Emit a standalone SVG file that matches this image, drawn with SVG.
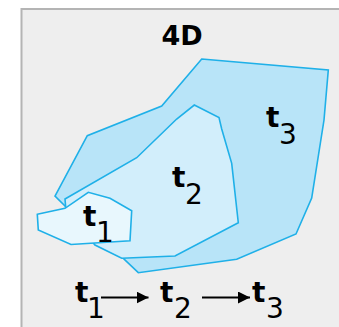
<svg xmlns="http://www.w3.org/2000/svg" width="339" height="327" viewBox="0 0 339 327">
<defs>
<style>
.reg{stroke:#1fb0e8;stroke-width:1.6;stroke-linejoin:miter}
.t{font-family:"DejaVu Sans",Verdana,sans-serif;font-weight:bold;font-size:28px;fill:#000}
.s{font-family:"DejaVu Sans",Verdana,sans-serif;font-size:28px;fill:#000}
.title{font-family:"DejaVu Sans",Verdana,sans-serif;font-weight:bold;font-size:27px;fill:#000}
.conn{stroke:#000;stroke-width:2;fill:none}
</style>
<marker id="ah" viewBox="0 0 10 10" refX="10" refY="5" markerWidth="12" markerHeight="12" markerUnits="userSpaceOnUse" orient="auto">
<path d="M0,0 L10,5 L0,10 z" fill="#000"/>
</marker>
</defs>
<rect x="21.5" y="9" width="340" height="340" fill="#eeeeee" stroke="#b4b4b4" stroke-width="2"/>
<text class="title" x="182" y="45" text-anchor="middle">4D</text>
<g id="t3">
<polygon class="reg" fill="#b8e4f8" points="201.7,59 328.3,70 324,120 311.7,198 296,234 236.7,259.3 138.3,272.7 123.3,258.3 95,240 65,206 55,196 87.3,135.7 161.7,106"/>
<text class="t" x="266" y="127">t</text><text class="s" x="279" y="144">3</text>
</g>
<g id="t2">
<polygon class="reg" fill="#d2eefb" points="194.3,105 219,117.5 221.7,129 231.7,163.3 238.3,222.7 175,256 121.7,258.3 95,245 70,215 65.7,207.3 65,199 136.7,157.7 176.7,119"/>
<text class="t" x="172" y="187">t</text><text class="s" x="185" y="204">2</text>
</g>
<g id="t1">
<polygon class="reg" fill="#e8f7fd" points="37.3,214.3 65,208.3 88.3,192.3 110,198.3 131.7,210.7 130,240.7 71,244.5 38.3,230"/>
<text class="t" x="83" y="226">t</text><text class="s" x="96" y="242">1</text>
</g>
<g id="seq">
<text class="t" x="75" y="302">t</text><text class="s" x="87" y="318">1</text>
<text class="t" x="160" y="302">t</text><text class="s" x="174" y="318">2</text>
<text class="t" x="252" y="302">t</text><text class="s" x="266" y="318">3</text>
</g>
<g id="connectors">
<line class="conn" x1="101" y1="297.5" x2="148.5" y2="297.5" marker-end="url(#ah)"/>
<line class="conn" x1="202" y1="297.5" x2="250" y2="297.5" marker-end="url(#ah)"/>
</g>
</svg>
